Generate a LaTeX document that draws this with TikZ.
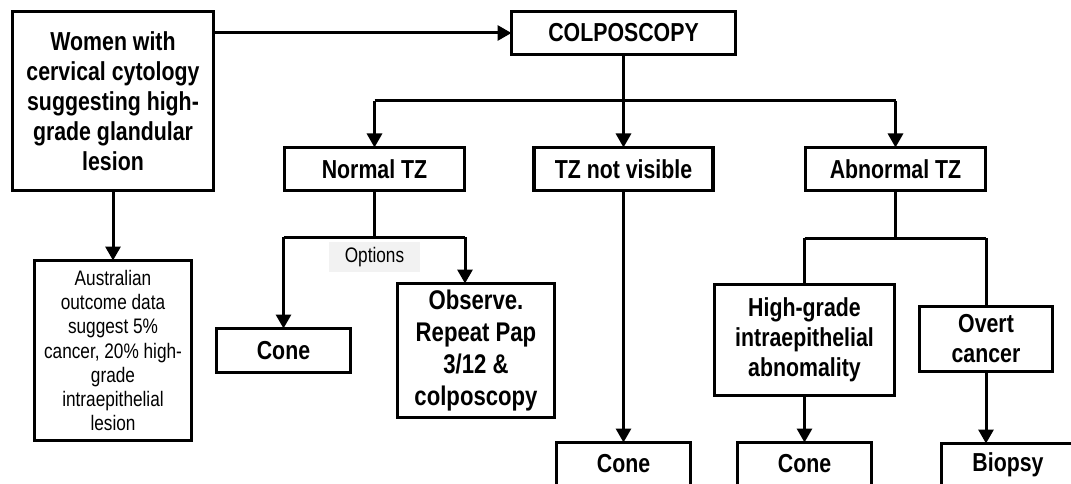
\documentclass[tikz,border=0pt]{standalone}
\usepackage{fontspec}
\setmainfont{Liberation Sans}[FakeStretch=0.82]
\usetikzlibrary{arrows.meta}

\begin{document}
\begin{tikzpicture}[x=1pt,y=-1pt,
  box/.style={draw=black, line width=3.2pt, inner sep=0pt, outer sep=0pt, align=center,
    font=\fontsize{26}{30}\selectfont\bfseries},
  smallbox/.style={box, font=\fontsize{21}{24.3}\selectfont},
  conn/.style={line width=3pt},
  arr/.style={conn, -{Triangle[length=14pt,width=15pt]}}]

\useasboundingbox (0,0) rectangle (1071,484);

% Boxes (sizes measured between outer edges, minus the border width)
\node[box, minimum width=201, minimum height=179] (women) at (113,101)
  {Women with\\cervical cytology\\suggesting high-\\grade glandular\\lesion};
\node[box, minimum width=224, minimum height=43] (colp) at (623.5,33) {COLPOSCOPY};

\node[box, minimum width=180, minimum height=43] (normal) at (374.5,169) {Normal TZ};
\node[box, minimum width=179, minimum height=43] (notvis) at (623.5,169) {TZ not visible};
\node[box, minimum width=180, minimum height=43] (abn)    at (895.5,169) {Abnormal TZ};

\node[smallbox, minimum width=157, minimum height=180] (aus) at (113,350.5)
  {Australian\\outcome data\\suggest 5\%\\cancer, 20\% high-\\grade\\intraepithelial\\lesion};

\node[fill=black!5, minimum width=91, minimum height=30, inner sep=0pt,
  font=\fontsize{21}{24}\selectfont] (opt) at (374.5,257) {Options};

\node[box, minimum width=134, minimum height=44] (cone1) at (283.5,350.5) {Cone};
\node[box, minimum width=157, minimum height=134,
  font=\fontsize{27}{32}\selectfont\bfseries] (obs) at (476,350.5)
  {Observe.\\Repeat Pap\\3/12 \&\\colposcopy};

\node[box, minimum width=180, minimum height=111] (hg) at (804.5,340)
  {High-grade\\intraepithelial\\abnomality};
\node[box, minimum width=133, minimum height=65] (overt) at (986,339)
  {Overt\\cancer};

\node[box, minimum width=134, minimum height=43] (cone2)  at (623.5,464) {Cone};
\node[box, minimum width=134, minimum height=43] (cone3)  at (804.5,464) {Cone};
\node[box, minimum width=133, minimum height=43] (biopsy) at (1008,465) {Biopsy};

% Junction points of the branching lines
\coordinate (busC) at (623.5,101);
\coordinate (busN) at (374.5,237);
\coordinate (busA) at (895.5,238);
\coordinate (obsIn) at (465,237);

% Referral arrows
\draw[arr] (women.east |- colp.west) -- (colp.west);
\draw[arr] (women.south) -- (aus.north);

% Colposcopy branches
\draw[conn] (colp.south) -- (busC);
\draw[conn] (normal.north |- busC) -- (abn.north |- busC);
\draw[arr] (normal.north |- busC) -- (normal.north);
\draw[arr] (busC) -- (notvis.north);
\draw[arr] (abn.north |- busC) -- (abn.north);

% Normal TZ options
\draw[conn] (normal.south) -- (busN);
\draw[conn] (cone1.north |- busN) -- (obsIn);
\draw[arr] (cone1.north |- busN) -- (cone1.north);
\draw[arr] (obsIn) -- (obsIn |- obs.north);

% TZ not visible
\draw[arr] (notvis.south) -- (cone2.north);

% Abnormal TZ branches
\draw[conn] (abn.south) -- (busA);
\draw[conn] (hg.north |- busA) -- (overt.north |- busA);
\draw[conn] (hg.north |- busA) -- (hg.north);
\draw[conn] (overt.north |- busA) -- (overt.north);
\draw[arr] (hg.south) -- (cone3.north);
\draw[arr] (overt.south) -- (overt.south |- biopsy.north);

\end{tikzpicture}
\end{document}
